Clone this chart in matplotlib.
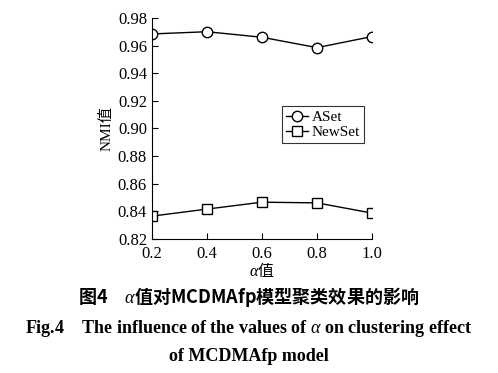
import matplotlib
matplotlib.use('Agg')
import matplotlib.pyplot as plt

alpha = [0.2, 0.4, 0.6, 0.8, 1.0]
aset = [0.9684, 0.9700, 0.9660, 0.9585, 0.9665]
newset = [0.8366, 0.8417, 0.8467, 0.8462, 0.8388]
yticks = [0.82, 0.84, 0.86, 0.88, 0.90, 0.92, 0.94, 0.96, 0.98]

serif = ['Liberation Serif', 'Noto Sans CJK SC']
cjk = ['Noto Sans CJK SC', 'Liberation Serif']
plt.rcParams['font.family'] = serif
plt.rcParams['mathtext.fontset'] = 'custom'
plt.rcParams['mathtext.it'] = 'Liberation Serif:italic'
plt.rcParams['mathtext.bf'] = 'Liberation Serif:bold:italic'

fig = plt.figure(figsize=(4.98, 3.73), dpi=100)
ax = fig.add_axes([0.305, 0.359, 0.442, 0.593])

ax.plot(alpha, aset, color='black', lw=1, marker='o', ms=7.5,
        mfc='white', mec='black', mew=1, label='ASet')
ax.plot(alpha, newset, color='black', lw=1, marker='s', ms=7.5,
        mfc='white', mec='black', mew=1, label='NewSet')

ax.set_xlim(0.2, 1.0)
ax.set_ylim(0.82, 0.98)
ax.set_xticks(alpha)
ax.set_xticklabels(['0.2', '0.4', '0.6', '0.8', '1.0'])
ax.set_yticks(yticks)
ax.set_yticklabels(['%.2f' % v for v in yticks])
ax.spines['top'].set_visible(False)
ax.spines['right'].set_visible(False)
ax.tick_params(direction='in', labelsize=12, length=4, width=0.8)
ax.tick_params(axis='x', pad=5)

ax.set_ylabel('NMI值', fontsize=11, labelpad=3)
ax.set_xlabel('$\\it{α}$值', fontsize=11.5, labelpad=-1, family=cjk)

leg = ax.legend(loc='upper left', bbox_to_anchor=(0.59, 0.60), fontsize=11,
                frameon=True, fancybox=False, edgecolor='black',
                handlelength=1.5, handletextpad=0.2, borderpad=0.25,
                labelspacing=0.1, borderaxespad=0)
leg.get_frame().set_linewidth(0.8)

fig.text(0.5, 0.188, '图4　$\\it{α}$值对MCDMAfp模型聚类效果的影响', ha='center',
         fontsize=13, fontweight='bold', family=cjk)
fig.text(0.5, 0.106, 'Fig.4    The influence of the values of $\\it{α}$ on clustering effect',
         ha='center', fontsize=13, fontweight='bold')
fig.text(0.5, 0.032, 'of MCDMAfp model', ha='center', fontsize=13, fontweight='bold')

fig.savefig('out.png', dpi=100)
